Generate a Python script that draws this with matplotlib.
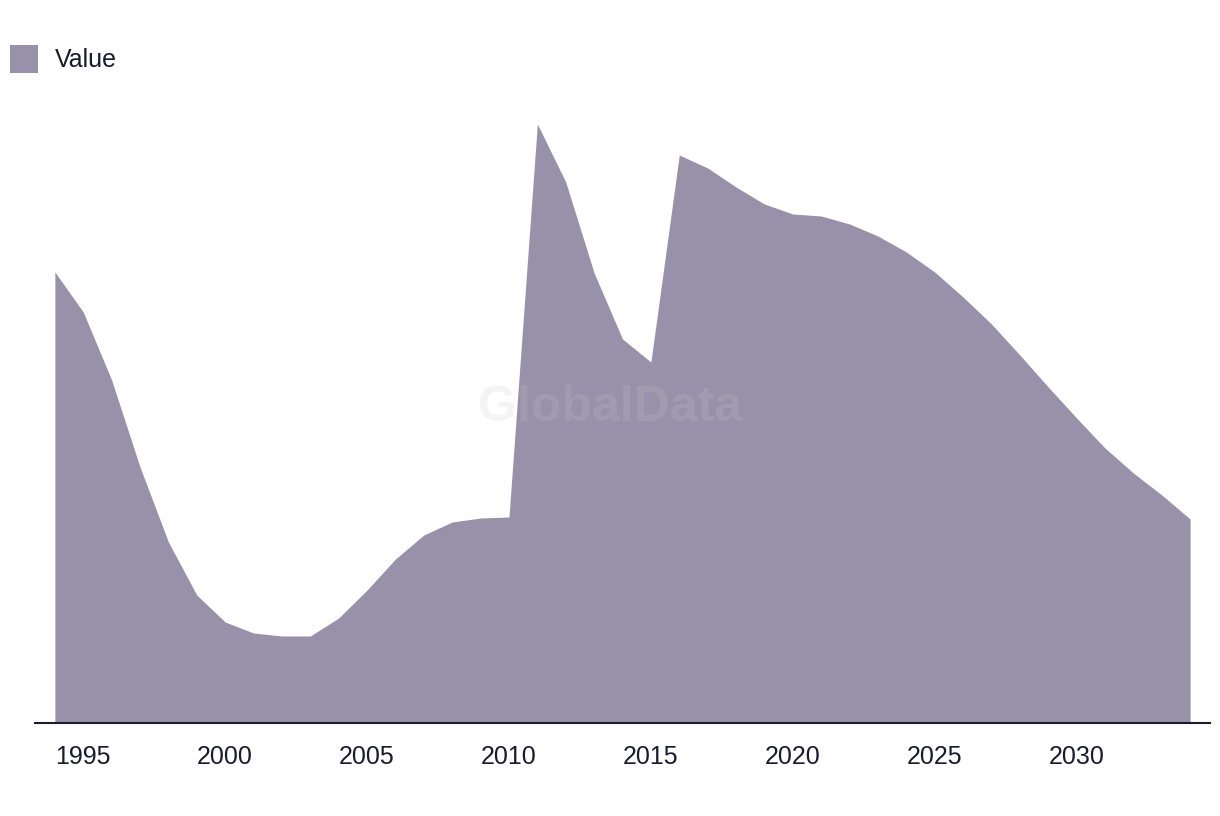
import matplotlib
matplotlib.use("Agg")
import matplotlib.pyplot as plt
from matplotlib.patches import Rectangle

# yearly series (no y scale shown)
years = list(range(1994, 2035))
values = [451, 411, 343, 256, 181, 128, 101, 90, 87, 87,
          105, 133, 164, 188, 201, 205, 206, 599, 541, 450,
          384, 361, 568, 555, 536, 519, 509, 507, 499, 487,
          471, 451, 426, 399, 368, 336, 305, 275, 250, 228,
          204]
tick_years = [1995, 2000, 2005, 2010, 2015, 2020, 2025, 2030]
series_name = "Value"

FILL = "#9991a9"
INK = "#1b1a2e"

plt.rcParams["font.family"] = ["Liberation Sans", "DejaVu Sans"]

W, H = 1220, 816
fig = plt.figure(figsize=(W / 100, H / 100), dpi=100)
ax = fig.add_axes([35 / W, 1 - 723 / H, 1175 / W, 623 / H])

ax.fill_between(years, values, 0, color=FILL, linewidth=0)

ax.set_xlim(1993.3, 2034.7)
ax.set_ylim(0, 623)

for side in ["top", "right", "left"]:
    ax.spines[side].set_visible(False)
ax.spines["bottom"].set_color(INK)
ax.spines["bottom"].set_linewidth(1.5)
ax.set_yticks([])
ax.set_xticks(tick_years)
ax.set_xticklabels([str(y) for y in tick_years])
ax.tick_params(axis="x", length=0, pad=16, labelsize=18, labelcolor=INK)

# watermark
fig.text(610 / W, 1 - 408 / H, "GlobalData", ha="center", va="center",
         fontsize=36, fontweight="bold", color="#c8c8c8", alpha=0.2,
         zorder=5)

# legend, drawn by hand to sit where the original does
fig.add_artist(Rectangle((10 / W, 1 - 73 / H), 28 / W, 28 / H,
                         transform=fig.transFigure, color=FILL, lw=0))
fig.text(55 / W, 1 - 60 / H, series_name, ha="left", va="center",
         fontsize=18, color=INK)

fig.savefig("out.png", dpi=100)
